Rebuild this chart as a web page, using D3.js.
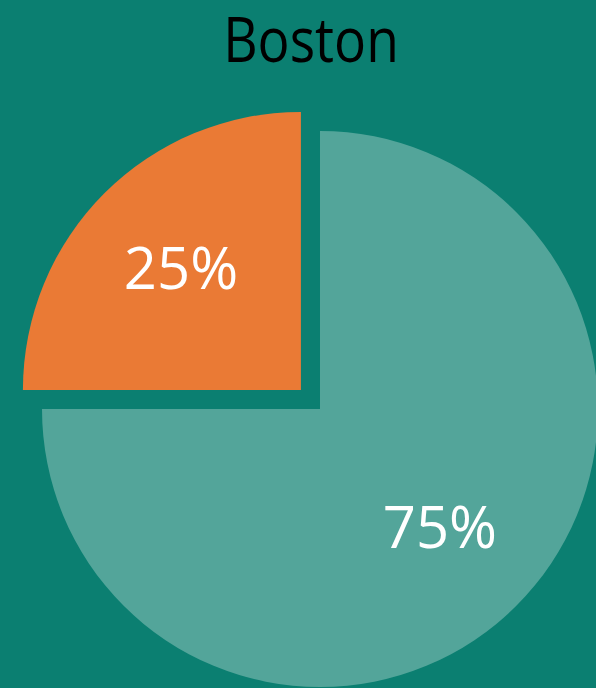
<!DOCTYPE html>
<html>
<head>
<meta charset="utf-8">
<script src="https://cdn.jsdelivr.net/npm/d3@7"></script>
<style>
  html, body { margin: 0; padding: 0; background: #0b7f71; }
  svg { display: block; }
</style>
</head>
<body>
<svg id="chart"></svg>
<script>
var labels = ["Other", "Boston"],
    values = [75, 25],
    colors = ["#53a59a", "#ea7a35"],
    title = "Boston";

var width = 596,
    height = 688,
    cx = 320,
    cy = 409,
    radius = 278,
    explode = 27;

var svg = d3.select("#chart")
  .attr("width", width)
  .attr("height", height);

svg.append("rect")
  .attr("width", width)
  .attr("height", height)
  .attr("fill", "#0b7f71");

// title face in the reference is narrower than Open Sans, so squeeze it horizontally
svg.append("text")
  .attr("transform", "translate(311,62) scale(0.86,1)")
  .attr("text-anchor", "middle")
  .attr("font-family", "Open Sans, sans-serif")
  .attr("font-size", 62)
  .attr("fill", "#000")
  .text(title);

var pie = d3.pie().sort(null).value(d => d),
    arc = d3.arc().innerRadius(0).outerRadius(radius),
    labelArc = d3.arc().innerRadius(radius * 0.61).outerRadius(radius * 0.61);

var slices = svg.append("g")
  .attr("transform", "translate(" + cx + "," + cy + ")")
  .selectAll("g")
  .data(pie(values))
  .join("g")
  .attr("transform", (d, i) => {
    if (i !== 1) return null;
    var mid = (d.startAngle + d.endAngle) / 2;
    return "translate(" + (Math.sin(mid) * explode) + "," + (-Math.cos(mid) * explode) + ")";
  });

slices.append("path")
  .attr("d", arc)
  .attr("fill", (d, i) => colors[i]);

slices.append("text")
  .attr("transform", d => "translate(" + labelArc.centroid(d) + ")")
  .attr("text-anchor", "middle")
  .attr("dy", "0.33em")
  .attr("font-family", "Open Sans, sans-serif")
  .attr("font-size", 58)
  .attr("fill", "#fff")
  .text(d => d.data + "%");
</script>
</body>
</html>
